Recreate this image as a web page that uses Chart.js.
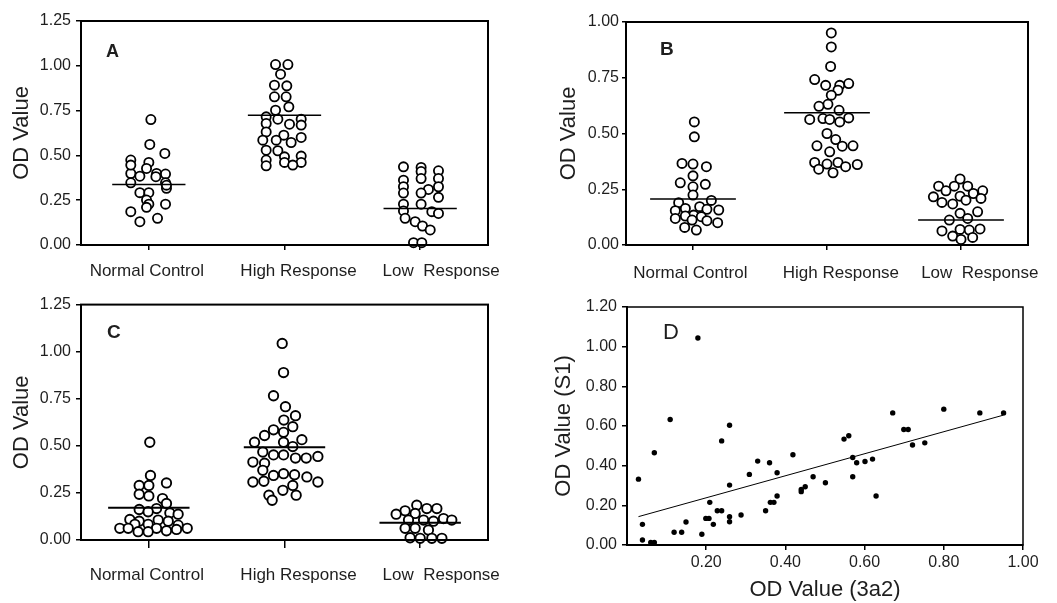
<!DOCTYPE html>
<html>
<head>
<meta charset="utf-8">
<script src="https://cdn.jsdelivr.net/npm/chart.js@4.4.1/dist/chart.umd.min.js"></script>
<style>
  body { margin: 0; background: #fff; }
  .panel { position: absolute; }
</style>
</head>
<body>
<div class="panel" style="left:0;top:0"><canvas id="chartA" width="528" height="290"></canvas></div>
<div class="panel" style="left:528px;top:0"><canvas id="chartB" width="529" height="290"></canvas></div>
<div class="panel" style="left:0;top:290px"><canvas id="chartC" width="528" height="313"></canvas></div>
<div class="panel" style="left:528px;top:290px"><canvas id="chartD" width="529" height="313"></canvas></div>
<script>
var categories = ['Normal Control', 'High Response', 'Low  Response']
var odTicks125 = [0, 0.25, 0.5, 0.75, 1, 1.25]
var odTicks100 = [0, 0.25, 0.5, 0.75, 1]
var s1Ticks = [0, 0.2, 0.4, 0.6, 0.8, 1, 1.2]
var a3Ticks = [0.2, 0.4, 0.6, 0.8, 1]

// panel A - x values are the spread of each dot around its group (in group units)
var aNormalX = [0.015, 0.007, 0.118, -0.133, 0, -0.017, -0.133, 0.057, 0.123, -0.066, 0.052, -0.133, 0.123, 0.13, -0.066, 0, -0.017, 0, 0.123, -0.017, -0.133, 0.064, -0.066, -0.133, 0.13]
var aNormalY = [0.70, 0.561, 0.511, 0.474, 0.461, 0.427, 0.399, 0.399, 0.396, 0.384, 0.381, 0.347, 0.347, 0.316, 0.292, 0.292, 0.251, 0.228, 0.228, 0.21, 0.186, 0.149, 0.13, 0.446, 0.334]
var aHighX = [-0.066, 0.025, -0.029, -0.074, 0.017, -0.074, 0.012, 0.032, -0.066, -0.135, -0.049, 0.123, -0.135, 0.037, 0.123, -0.135, -0.005, 0.123, -0.16, -0.061, 0.049, -0.135, -0.049, 0.123, 0, -0.135, 0.123, 0, -0.135, 0.061]
var aHighY = [1.007, 1.007, 0.953, 0.892, 0.888, 0.827, 0.827, 0.771, 0.752, 0.715, 0.702, 0.702, 0.678, 0.674, 0.669, 0.631, 0.613, 0.60, 0.585, 0.585, 0.572, 0.529, 0.526, 0.496, 0.492, 0.474, 0.461, 0.461, 0.442, 0.446]
var aLowX = [-0.123, 0.007, 0.135, 0.007, -0.123, 0.007, 0.135, -0.123, 0.135, 0.061, -0.123, 0.007, 0.135, -0.123, 0.007, -0.123, 0.086, 0.135, -0.111, -0.037, 0.017, 0.074, -0.049, 0.012]
var aLowY = [0.436, 0.433, 0.414, 0.41, 0.362, 0.371, 0.371, 0.325, 0.325, 0.31, 0.29, 0.29, 0.266, 0.228, 0.228, 0.19, 0.186, 0.176, 0.149, 0.13, 0.106, 0.084, 0.013, 0.013]
var aMeans = [0.338, 0.724, 0.204]

// panel B
var bNormalX = [0.01, 0.01, -0.082, 0, 0.1, 0, -0.095, 0.092, 0, 0, -0.107, 0.137, 0.05, -0.132, -0.057, 0.104, 0.192, 0.005, -0.132, -0.057, 0.062, -0.007, 0.104, 0.184, -0.062, 0.025]
var bNormalY = [0.552, 0.485, 0.366, 0.363, 0.351, 0.31, 0.279, 0.272, 0.261, 0.224, 0.19, 0.20, 0.172, 0.154, 0.164, 0.16, 0.157, 0.134, 0.119, 0.13, 0.127, 0.112, 0.109, 0.10, 0.079, 0.067]
var bHighX = [0.032, 0.032, 0.027, -0.092, -0.01, 0.095, 0.162, 0.082, 0.032, 0.007, -0.06, 0.09, -0.129, -0.03, 0.02, 0.095, 0.162, 0, 0.065, -0.075, 0.114, 0.194, 0.02, -0.092, 0, 0.082, -0.062, 0.139, 0.226, 0.045]
var bHighY = [0.951, 0.888, 0.801, 0.742, 0.716, 0.716, 0.724, 0.694, 0.672, 0.631, 0.622, 0.604, 0.563, 0.567, 0.563, 0.552, 0.57, 0.50, 0.473, 0.445, 0.443, 0.445, 0.418, 0.37, 0.363, 0.37, 0.34, 0.351, 0.361, 0.324]
var bLowX = [-0.007, -0.167, -0.05, 0.05, -0.112, 0.162, 0.092, -0.007, -0.206, 0.149, 0.037, -0.142, -0.062, 0.124, -0.007, 0.05, -0.087, -0.142, -0.007, 0.062, 0.142, -0.062, 0.087, 0]
var bLowY = [0.296, 0.264, 0.264, 0.264, 0.243, 0.243, 0.231, 0.219, 0.216, 0.209, 0.201, 0.191, 0.184, 0.149, 0.142, 0.119, 0.112, 0.063, 0.07, 0.067, 0.072, 0.04, 0.034, 0.025]
var bMeans = [0.206, 0.593, 0.112]

// panel C
var cNormalX = [0.007, 0.012, 0.13, -0.071, 0, -0.071, 0, 0.101, 0.13, 0.057, -0.071, -0.005, 0.155, 0.216, -0.14, -0.071, 0.069, 0.143, -0.103, -0.005, 0.216, -0.214, -0.152, 0.057, 0.283, -0.079, -0.005, 0.13, 0.204]
var cNormalY = [0.519, 0.343, 0.303, 0.29, 0.29, 0.243, 0.234, 0.22, 0.194, 0.167, 0.162, 0.15, 0.144, 0.137, 0.109, 0.10, 0.106, 0.10, 0.083, 0.083, 0.079, 0.062, 0.062, 0.062, 0.062, 0.044, 0.044, 0.049, 0.056]
var cHighX = [-0.017, -0.007, -0.081, 0.007, 0.081, -0.005, 0.061, -0.081, -0.147, -0.007, 0.128, -0.221, -0.007, 0.061, -0.16, -0.081, -0.007, 0.081, 0.16, 0.246, -0.233, -0.147, -0.16, -0.081, -0.007, 0.074, 0.165, -0.233, -0.152, 0.246, 0.061, -0.012, -0.115, 0.086, -0.091]
var cHighY = [1.044, 0.889, 0.766, 0.708, 0.66, 0.637, 0.602, 0.585, 0.555, 0.572, 0.533, 0.519, 0.519, 0.496, 0.467, 0.452, 0.452, 0.435, 0.435, 0.444, 0.414, 0.408, 0.37, 0.343, 0.352, 0.347, 0.335, 0.308, 0.312, 0.308, 0.29, 0.264, 0.238, 0.238, 0.211]
var cLowX = [-0.025, 0.049, 0.123, -0.111, -0.177, -0.037, 0.172, 0.233, -0.086, 0.025, 0.098, -0.111, -0.037, 0.061, -0.074, 0, 0.086, 0.16]
var cLowY = [0.185, 0.167, 0.167, 0.155, 0.137, 0.141, 0.114, 0.106, 0.106, 0.106, 0.10, 0.062, 0.062, 0.053, 0.012, 0.009, 0.009, 0.009]
var cMeans = [0.171, 0.493, 0.092]

// panel D - OD 3a2 vs OD S1
var d3a2 = [0.029, 0.039, 0.039, 0.06, 0.069, 0.069, 0.109, 0.119, 0.138, 0.149, 0.179, 0.189, 0.199, 0.207, 0.209, 0.218, 0.228, 0.239, 0.239, 0.259, 0.259, 0.259, 0.259, 0.288, 0.309, 0.33, 0.35, 0.36, 0.362, 0.371, 0.379, 0.379, 0.419, 0.44, 0.44, 0.45, 0.47, 0.501, 0.548, 0.56, 0.57, 0.57, 0.58, 0.601, 0.62, 0.629, 0.671, 0.699, 0.71, 0.721, 0.752, 0.80, 0.891, 0.951]
var dS1 = [0.332, 0.104, 0.025, 0.013, 0.013, 0.465, 0.633, 0.064, 0.064, 0.116, 1.044, 0.054, 0.134, 0.134, 0.215, 0.104, 0.173, 0.173, 0.525, 0.604, 0.302, 0.143, 0.117, 0.151, 0.356, 0.423, 0.173, 0.415, 0.215, 0.215, 0.364, 0.247, 0.455, 0.28, 0.269, 0.294, 0.344, 0.314, 0.534, 0.551, 0.441, 0.344, 0.415, 0.421, 0.433, 0.247, 0.666, 0.582, 0.582, 0.504, 0.515, 0.685, 0.666, 0.666]
var dFitX = [0.029, 0.951]
var dFitY = [0.143, 0.655]

var FONT = '"Liberation Sans", Arial, sans-serif'
var INK = '#1e1e1e'

// box round the plot area
Chart.register({
    id: 'frame',
    afterDraw: function(chart, args, opts) {
        var a = chart.chartArea
        var ctx = chart.ctx
        ctx.save()
        ctx.strokeStyle = '#000'
        ctx.lineWidth = opts.width || 1.5
        ctx.strokeRect(a.left, a.top, a.right - a.left, a.bottom - a.top)
        ctx.restore()
    }
})

// the A/B/C/D letter
Chart.register({
    id: 'panelLetter',
    afterDraw: function(chart, args, opts) {
        if (!opts.text) return
        var ctx = chart.ctx
        ctx.save()
        ctx.fillStyle = INK
        ctx.font = opts.font + ' ' + FONT
        ctx.textAlign = 'left'
        ctx.textBaseline = 'middle'
        ctx.fillText(opts.text, opts.x, opts.y)
        ctx.restore()
    }
})

function cluster(cat, xs, ys) {
    return ys.map(function(y, i) { return { x: cat + xs[i], y: y } })
}

function meanLine(cat, m, half) {
    return [{ x: cat - half, y: m }, { x: cat + half, y: m }]
}

function fixedTicks(list) {
    return function(axis) { axis.ticks = list.map(function(v) { return { value: v } }) }
}

function dotChart(id, p) {
    var sets = []
    for (var c = 0; c < 3; c++) {
        sets.push({ data: meanLine(c, p.means[c], p.half), showLine: true, borderColor: '#000', borderWidth: p.meanWidth, pointRadius: 0, clip: false })
    }
    for (var c = 0; c < 3; c++) {
        sets.push({ data: cluster(c, p.xs[c], p.ys[c]), pointRadius: p.r, pointBackgroundColor: '#fff', pointBorderColor: '#000', pointBorderWidth: p.bw, clip: false })
    }
    return new Chart(document.getElementById(id), {
        type: 'scatter',
        data: { datasets: sets },
        options: {
            responsive: false,
            animation: false,
            events: [],
            layout: { padding: { left: 0, top: p.top, right: p.right, bottom: 0 } },
            plugins: {
                legend: { display: false },
                tooltip: { enabled: false },
                frame: { width: p.frame },
                panelLetter: p.letter
            },
            scales: {
                x: {
                    type: 'linear', min: -0.5, max: 2.5, weight: 0,
                    afterBuildTicks: fixedTicks([0, 1, 2]),
                    afterFit: function(axis) { axis.height = p.xTick },
                    ticks: { display: false },
                    grid: { drawOnChartArea: false, color: '#000', tickLength: p.xTick, lineWidth: 1.5 },
                    border: { color: '#000', width: 2 }
                },
                xl: {
                    axis: 'x', type: 'linear', position: 'bottom', min: -0.5, max: 2.5, weight: 1,
                    afterBuildTicks: fixedTicks(p.labelAt),
                    afterFit: function(axis) { axis.height = p.xHeight - p.xTick },
                    ticks: {
                        callback: function(v, i) { return categories[i] },
                        color: INK, font: { family: FONT, size: 17 }, padding: p.xPad, maxRotation: 0, autoSkip: false
                    },
                    grid: { display: false },
                    border: { display: false }
                },
                y: {
                    min: 0, max: p.yMax,
                    afterBuildTicks: fixedTicks(p.yTicks),
                    afterFit: function(axis) { axis.width = p.yWidth },
                    ticks: {
                        callback: function(v) { return v.toFixed(2) },
                        color: INK, font: { family: FONT, size: 16 }, padding: p.yPad
                    },
                    grid: { drawOnChartArea: false, color: '#000', tickLength: p.yTick, lineWidth: 1.5 },
                    border: { color: '#000', width: 2 },
                    title: { display: true, text: 'OD Value', color: INK, font: { family: FONT, size: 22 }, padding: { top: p.titlePad, bottom: 0 } }
                }
            }
        }
    })
}

dotChart('chartA', {
    xs: [aNormalX, aHighX, aLowX], ys: [aNormalY, aHighY, aLowY], means: aMeans,
    yMax: 1.25, yTicks: odTicks125, labelAt: [-0.015, 1.103, 2.155],
    top: 21, right: 40, xHeight: 45, yWidth: 81, xTick: 5, xPad: 3.5, yTick: 5, yPad: 5, titlePad: 9,
    half: 0.27, meanWidth: 1.5, r: 4.6, bw: 1.8, frame: 2,
    letter: { text: 'A', x: 106, y: 52, font: 'bold 18px' }
})

dotChart('chartB', {
    xs: [bNormalX, bHighX, bLowX], ys: [bNormalY, bHighY, bLowY], means: bMeans,
    yMax: 1.0, yTicks: odTicks100, labelAt: [-0.02, 1.104, 2.14],
    top: 22, right: 29, xHeight: 45, yWidth: 98, xTick: 5, xPad: 5, yTick: 4, yPad: 3, titlePad: 28,
    half: 0.32, meanWidth: 1.5, r: 4.6, bw: 1.8, frame: 2,
    letter: { text: 'B', x: 132, y: 50, font: 'bold 19px' }
})

dotChart('chartC', {
    xs: [cNormalX, cHighX, cLowX], ys: [cNormalY, cHighY, cLowY], means: cMeans,
    yMax: 1.25, yTicks: odTicks125, labelAt: [-0.015, 1.103, 2.155],
    top: 13, right: 40, xHeight: 63, yWidth: 81, xTick: 8, xPad: 9, yTick: 5, yPad: 5, titlePad: 9,
    half: 0.3, meanWidth: 2, r: 4.7, bw: 1.9, frame: 2,
    letter: { text: 'C', x: 107, y: 43, font: 'bold 19px' }
})

new Chart(document.getElementById('chartD'), {
    type: 'scatter',
    data: {
        datasets: [
            { data: dFitX.map(function(x, i) { return { x: x, y: dFitY[i] } }), showLine: true, borderColor: '#000', borderWidth: 1, pointRadius: 0 },
            { data: d3a2.map(function(x, i) { return { x: x, y: dS1[i] } }), pointRadius: 2.7, pointBackgroundColor: '#000', pointBorderWidth: 0, clip: false }
        ]
    },
    options: {
        responsive: false,
        animation: false,
        events: [],
        layout: { padding: { left: 0, top: 17, right: 34, bottom: 0 } },
        plugins: {
            legend: { display: false },
            tooltip: { enabled: false },
            frame: { width: 1.5 },
            panelLetter: { text: 'D', x: 135, y: 43, font: '22px' }
        },
        scales: {
            x: {
                min: 0, max: 1,
                afterBuildTicks: fixedTicks(a3Ticks),
                afterFit: function(axis) { axis.height = 58 },
                ticks: { callback: function(v) { return v.toFixed(2) }, color: INK, font: { family: FONT, size: 16 }, padding: 2.5, maxRotation: 0 },
                grid: { drawOnChartArea: false, color: '#000', tickLength: 5, lineWidth: 1.5 },
                border: { color: '#000', width: 2 },
                title: { display: true, text: 'OD Value (3a2)', color: INK, font: { family: FONT, size: 22 }, padding: { top: 0, bottom: 0 } }
            },
            y: {
                min: 0, max: 1.2,
                afterBuildTicks: fixedTicks(s1Ticks),
                afterFit: function(axis) { axis.width = 99 },
                ticks: { callback: function(v) { return v.toFixed(2) }, color: INK, font: { family: FONT, size: 16 }, padding: 5 },
                grid: { drawOnChartArea: false, color: '#000', tickLength: 5, lineWidth: 1.5 },
                border: { color: '#000', width: 2 },
                title: { display: true, text: 'OD Value (S1)', color: INK, font: { family: FONT, size: 22 }, padding: { top: 23, bottom: 0 } }
            }
        }
    }
})
</script>
</body>
</html>
